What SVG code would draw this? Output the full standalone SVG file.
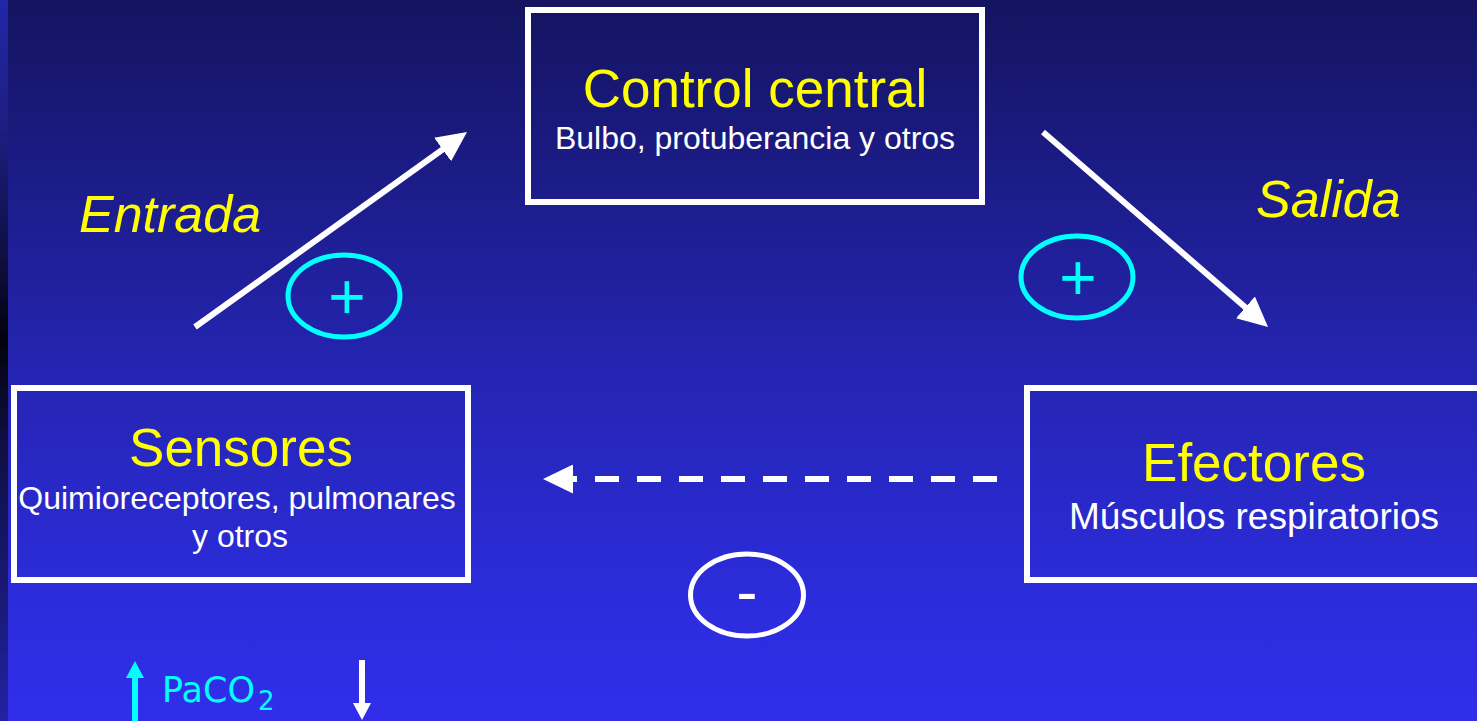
<svg xmlns="http://www.w3.org/2000/svg" width="1477" height="721" viewBox="0 0 1477 721">
  <defs>
    <linearGradient id="bg" x1="0" y1="0" x2="0" y2="1">
      <stop offset="0" stop-color="#141460"/>
      <stop offset="0.2" stop-color="#1A1A80"/>
      <stop offset="0.5" stop-color="#2424B0"/>
      <stop offset="0.83" stop-color="#2C2CDC"/>
      <stop offset="1" stop-color="#302EEA"/>
    </linearGradient>
    <linearGradient id="strip" x1="0" y1="0" x2="0" y2="1">
      <stop offset="0" stop-color="#2226A8"/>
      <stop offset="0.18" stop-color="#1C1E80"/>
      <stop offset="0.38" stop-color="#0C0C38"/>
      <stop offset="0.47" stop-color="#02020C"/>
      <stop offset="0.6" stop-color="#0E0E40"/>
      <stop offset="0.85" stop-color="#1A1A7C"/>
      <stop offset="1" stop-color="#2222A4"/>
    </linearGradient>
    <marker id="headW" viewBox="0 0 30 29" refX="6" refY="14.5" markerWidth="30" markerHeight="29" markerUnits="userSpaceOnUse" orient="auto">
      <path d="M0,0 L30,14.5 L0,29 Z" fill="#FFFFFF"/>
    </marker>
    <marker id="smallW" viewBox="0 0 17 18" refX="3" refY="9" markerWidth="17" markerHeight="18" markerUnits="userSpaceOnUse" orient="auto">
      <path d="M0,0 L17,9 L0,18 Z" fill="#FFFFFF"/>
    </marker>
    <marker id="smallC" viewBox="0 0 17 18" refX="3" refY="9" markerWidth="17" markerHeight="18" markerUnits="userSpaceOnUse" orient="auto">
      <path d="M0,0 L17,9 L0,18 Z" fill="#00FFFF"/>
    </marker>
  </defs>
  <style>
    .box { fill: none; stroke: #FFFFFF; stroke-width: 6; }
    .title { font-family: "Liberation Sans", Arial, sans-serif; font-size: 53px; fill: #FFFF00; text-anchor: middle; }
    .sub { font-family: "Liberation Sans", Arial, sans-serif; font-size: 32px; fill: #FFFFFF; text-anchor: middle; }
    .lbl { font-family: "Liberation Sans", Arial, sans-serif; font-size: 52px; font-style: italic; fill: #FFFF00; }
    .conn { fill: none; stroke: #FFFFFF; stroke-width: 6; }
    .ring { fill: none; stroke-width: 5; }
    .sign { font-family: "Liberation Sans", Arial, sans-serif; font-size: 64px; text-anchor: middle; }
  </style>

  <rect x="0" y="0" width="1477" height="721" fill="url(#bg)"/>
  <rect x="0" y="0" width="8" height="721" fill="url(#strip)"/>

  <g id="control-central">
    <rect class="box" x="528" y="10" width="454" height="192"/>
    <text class="title" x="755" y="107">Control central</text>
    <text class="sub" x="755" y="149">Bulbo, protuberancia y otros</text>
  </g>

  <g id="sensores">
    <rect class="box" x="14" y="388" width="454" height="192"/>
    <text class="title" x="241" y="466">Sensores</text>
    <text class="sub" x="237" y="509">Quimioreceptores, pulmonares</text>
    <text class="sub" x="240" y="547">y otros</text>
  </g>

  <g id="efectores">
    <rect class="box" x="1027" y="388" width="454" height="192"/>
    <text class="title" x="1254" y="481">Efectores</text>
    <text class="sub" x="1254" y="529" style="font-size:37px">Músculos respiratorios</text>
  </g>

  <g id="entrada">
    <text class="lbl" x="79" y="232">Entrada</text>
  </g>
  <g id="salida">
    <text class="lbl" x="1256" y="217">Salida</text>
  </g>

  <g id="connectors">
    <line class="conn" x1="195" y1="327" x2="447.5" y2="146" marker-end="url(#headW)"/>
    <line class="conn" x1="1043" y1="132" x2="1249.9" y2="311.3" marker-end="url(#headW)"/>
    <line class="conn" x1="997" y1="479" x2="567" y2="479" stroke-dasharray="24 18" marker-end="url(#headW)"/>
  </g>

  <g id="signo-entrada">
    <ellipse class="ring" cx="344" cy="296" rx="56" ry="41" stroke="#00FFFF"/>
    <text class="sign" x="347" y="319" fill="#00FFFF">+</text>
  </g>
  <g id="signo-salida">
    <ellipse class="ring" cx="1077" cy="277" rx="56" ry="41" stroke="#00FFFF"/>
    <text class="sign" x="1078" y="300" fill="#00FFFF">+</text>
  </g>
  <g id="signo-retro">
    <ellipse class="ring" cx="747" cy="595" rx="56.5" ry="41" stroke="#FFFFFF"/>
    <text class="sign" x="747" y="614" fill="#FFFFFF">-</text>
  </g>

  <g id="paco2">
    <line x1="135" y1="728" x2="135" y2="675" stroke="#00FFFF" stroke-width="6" marker-end="url(#smallC)"/>
    <text x="162" y="702" font-family="'DejaVu Sans', Verdana, sans-serif" font-size="35" fill="#00FFFF">PaCO<tspan x="258" y="710" font-size="26">2</tspan></text>
    <line x1="362" y1="660" x2="362" y2="706" stroke="#FFFFFF" stroke-width="6" marker-end="url(#smallW)"/>
  </g>
</svg>
